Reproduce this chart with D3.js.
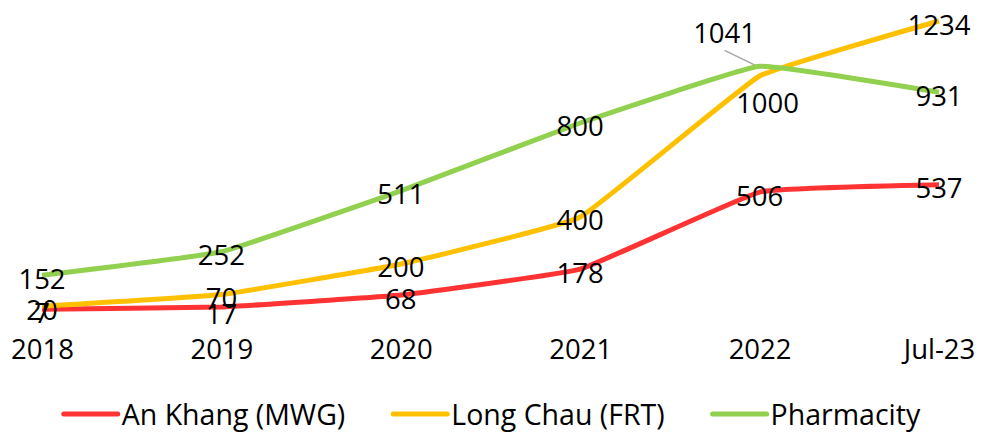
<!DOCTYPE html>
<html>
<head>
<meta charset="utf-8">
<script src="https://cdn.jsdelivr.net/npm/d3@7"></script>
<style>
  html, body { margin: 0; padding: 0; background: #fff; }
  svg { display: block; font-family: "Open Sans", "Noto Sans", sans-serif; }
</style>
</head>
<body>
<svg id="chart" width="982" height="432"></svg>
<script>
const categories = ["2018", "2019", "2020", "2021", "2022", "Jul-23"];
const seriesNames = ["An Khang (MWG)", "Long Chau (FRT)", "Pharmacity"];
const anKhang = [7, 17, 68, 178, 506, 537];
const longChau = [20, 70, 200, 400, 1000, 1234];
const pharmacity = [152, 252, 511, 800, 1041, 931];
const colors = ["#FF3333", "#FFC000", "#92D050"];

const svg = d3.select("#chart");
const x = d3.scalePoint().domain(categories).range([42, 939]);
const y = d3.scaleLinear().domain([0, 1234]).range([311, 21]);

const series = [
  { name: seriesNames[0], values: anKhang, color: colors[0] },
  { name: seriesNames[1], values: longChau, color: colors[1] },
  { name: seriesNames[2], values: pharmacity, color: colors[2] }
];

// x axis
const xAxis = svg.append("g")
  .attr("transform", "translate(0,338)")
  .call(d3.axisBottom(x).tickSize(0).tickPadding(0));
xAxis.select(".domain").remove();
xAxis.selectAll("text")
  .attr("font-size", 27.5)
  .attr("fill", "#000")
  .attr("font-family", "'Open Sans', sans-serif")
  .attr("dy", "0.75em");

const line = d3.line()
  .x((d, i) => x(categories[i]))
  .y(d => y(d))
  .curve(d3.curveCardinal.tension(0.72));

// leader line for 1041 label
const leaderX = x(categories[4]), leaderY = y(pharmacity[4]);
svg.append("line")
  .attr("x1", leaderX - 35).attr("y1", leaderY - 16)
  .attr("x2", leaderX - 2).attr("y2", leaderY)
  .attr("stroke", "#A6A6A6").attr("stroke-width", 1.5);

series.forEach(s => {
  svg.append("path")
    .datum(s.values)
    .attr("d", line)
    .attr("fill", "none")
    .attr("stroke", s.color)
    .attr("stroke-width", 5)
    .attr("stroke-linejoin", "round");
});

// data labels
series.forEach((s, si) => {
  svg.append("g").selectAll("text")
    .data(s.values)
    .join("text")
    .attr("x", (d, i) => {
      let px = x(categories[i]);
      if (si === 2 && i === 4) px -= 35;
      if (si === 1 && i === 4) px += 8;
      return px;
    })
    .attr("y", (d, i) => {
      let py = y(d) + 3;
      if (si === 2 && i === 4) py -= 37;
      if (si === 1 && i === 4) py += 24;
      if (si === 0 && i === 1) py += 3;
      return py;
    })
    .attr("text-anchor", "middle")
    .attr("dominant-baseline", "central")
    .attr("font-size", 27.5)
    .attr("fill", "#000")
    .text(d => d);
});

// legend
const legend = svg.append("g").attr("transform", "translate(0,414)");
const gapAfterText = 48, lineLen = 54, lineGap = 4;
const items = legend.selectAll("g").data(series).join("g");
items.append("line")
  .attr("x1", 0).attr("x2", lineLen)
  .attr("y1", 0).attr("y2", 0)
  .attr("stroke", d => d.color)
  .attr("stroke-width", 5)
  .attr("stroke-linecap", "round");
items.append("text")
  .attr("x", lineLen + lineGap)
  .attr("y", 0)
  .attr("dominant-baseline", "central")
  .attr("font-size", 28.5)
  .attr("fill", "#000")
  .text(d => d.name);
let widths = [];
items.each(function() {
  const t = d3.select(this).select("text").node().getComputedTextLength();
  widths.push(lineLen + lineGap + t);
});
const total = d3.sum(widths) + gapAfterText * (widths.length - 1);
let cx = 492 - total / 2;
items.attr("transform", (d, i) => {
  const tx = cx;
  cx += widths[i] + gapAfterText;
  return `translate(${tx},0)`;
});
</script>
</body>
</html>
